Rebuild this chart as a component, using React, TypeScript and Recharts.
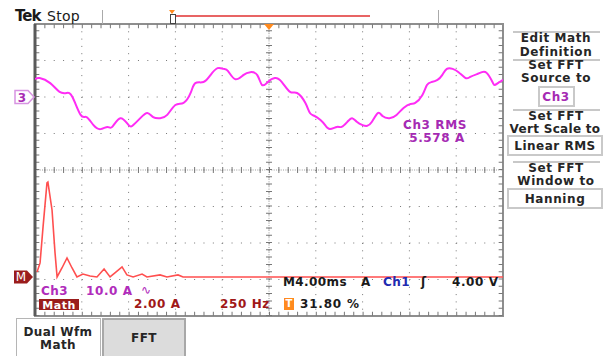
import React from 'react';
import {
  ComposedChart,
  Line,
  XAxis,
  YAxis,
  CartesianGrid,
  ReferenceLine,
  ReferenceArea,
  ReferenceDot,
} from 'recharts';

// ---- Channel 3 current waveform (time in ms, current in A) ----
const ch3TimeMs = [0, 0.4, 1.3, 2.1, 2.7, 3.2, 3.9, 4.4, 5.0, 5.6, 6.2, 6.6, 7.3, 8.0, 8.4, 9.0, 9.6, 10.1, 10.7, 11.3, 12.0, 12.7, 13.3, 13.7, 14.4, 15.0, 15.6, 16.1, 16.5, 17.1, 17.8, 18.4, 19.0, 19.4, 19.9, 20.5, 21.1, 21.8, 22.4, 23.1, 23.5, 23.9, 24.4, 24.8, 25.2, 25.8, 26.2, 26.7, 27.1, 27.5, 28.0, 28.4, 28.8, 29.3, 29.7, 30.3, 30.9, 31.5, 32.1, 32.5, 33.1, 33.5, 33.9, 34.4, 34.8, 35.2, 35.7, 36.2, 36.8, 37.2, 37.8, 38.2, 38.6, 39.1, 39.3, 39.7, 40.0];
const ch3CurrentA = [4.9, 5.2, 3.8, 1.4, 1.1, 0.0, -4.9, -5.5, -7.7, -8.8, -8.2, -8.2, -5.8, -7.7, -7.7, -5.8, -4.4, -5.5, -5.8, -4.9, -2.2, -1.6, 1.1, 3.8, 4.1, 6.0, 7.9, 7.7, 7.1, 4.9, 6.0, 6.8, 6.0, 3.3, 4.1, 5.2, 4.1, 1.4, 1.1, -1.6, -4.4, -5.2, -6.3, -7.7, -8.8, -8.2, -8.2, -6.8, -5.8, -6.8, -7.7, -7.9, -6.8, -4.4, -5.2, -5.8, -4.9, -3.0, -1.9, -1.6, 0.5, 3.3, 4.1, 4.7, 6.0, 7.7, 7.7, 6.8, 5.2, 5.5, 6.3, 6.8, 6.6, 4.1, 3.3, 4.1, 4.7];

// ---- FFT (frequency in Hz, magnitude in A RMS) ----
const fftFreqHz = [11, 27, 43, 64, 69, 91, 107, 118, 144, 171, 198, 224, 256, 294, 331, 369, 401, 427, 465, 491, 524, 572, 598, 668, 705, 764, 791, 2500];
const fftMagA = [0.27, 0.77, 2.74, 5.15, 5.2, 3.67, 1.32, 0, 0.49, 1.04, 0.49, 0, 0.16, 0.05, 0, 0.44, 0, 0.22, 0.55, 0.11, 0, 0.16, 0, 0.11, 0, 0.11, 0, 0];

// ---- scope settings ----
const MS_PER_DIV = 4;
const CH3_A_PER_DIV = 10;
const CH3_OFFSET_DIV = 2;
const HZ_PER_DIV = 250;
const MATH_A_PER_DIV = 2;
const MATH_OFFSET_DIV = -2.93;
const TRIGGER_DIV = 5;

const xMajor = [0, 1, 2, 3, 4, 5, 6, 7, 8, 9, 10];
const yMajor = [-4, -3, -2, -1, 0, 1, 2, 3, 4];

const waveData = ch3TimeMs.map((t, i) => ({
  x: t / MS_PER_DIV,
  y: CH3_OFFSET_DIV + ch3CurrentA[i] / CH3_A_PER_DIV,
}));
const fftData = fftFreqHz.map((f, i) => ({
  x: f / HZ_PER_DIV,
  y: MATH_OFFSET_DIV + fftMagA[i] / MATH_A_PER_DIV,
}));

const FONT = '"DejaVu Sans", Verdana, sans-serif';
const GRID = '#777';

const Ch3Marker = (p: any) => {
  const { cx, cy } = p;
  return (
    <g>
      <path
        d={`M${cx - 20},${cy - 6.5} H${cx - 7} L${cx - 1},${cy} L${cx - 7},${cy + 6.5} H${cx - 20} Z`}
        fill="#fff"
        stroke="#d894e2"
        strokeWidth={1.5}
      />
      <text x={cx - 13} y={cy + 4.5} textAnchor="middle" fontSize={12} fontWeight="bold" fill="#a82cb4" fontFamily={FONT}>
        3
      </text>
    </g>
  );
};

const MathMarker = (p: any) => {
  const { cx, cy } = p;
  return (
    <g>
      <path
        d={`M${cx - 21},${cy - 6.5} H${cx - 8} L${cx - 2},${cy} L${cx - 8},${cy + 6.5} H${cx - 21} Z`}
        fill="#9a1c1c"
      />
      <text x={cx - 14} y={cy + 4.5} textAnchor="middle" fontSize={12} fill="#fff" fontFamily={FONT}>
        M
      </text>
    </g>
  );
};

const TrigMarker = (p: any) => {
  const { cx, cy } = p;
  return <path d={`M${cx - 5},${cy} L${cx + 5},${cy} L${cx},${cy + 6} Z`} fill="#ff8a1e" />;
};

const T = ({ x, y, c = '#1a1a1a', s = 12, w = 'bold', a = 'start', children, ls = 0.4 }: any) => (
  <div
    style={{
      position: 'absolute',
      left: x,
      top: y,
      transform: a === 'middle' ? 'translate(-50%,-50%)' : 'translate(0,-50%)',
      color: c,
      fontSize: s,
      fontWeight: w,
      fontFamily: FONT,
      whiteSpace: 'nowrap',
      lineHeight: `${Math.round(s * 0.78)}px`,
      letterSpacing: ls,
    }}
  >
    {children}
  </div>
);

const Box = ({ x, y, w, h, bg = '#fff', border = '#c9c9c9', bw = 2 }: any) => (
  <div
    style={{
      position: 'absolute',
      left: x,
      top: y,
      width: w,
      height: h,
      background: bg,
      border: `${bw}px solid ${border}`,
      boxSizing: 'border-box',
    }}
  />
);

const Sep = ({ y }: any) => (
  <div style={{ position: 'absolute', left: 513, top: y, width: 87, height: 2, background: '#c8c8c8' }} />
);

const MENU = '#262626';

export default function App() {
  return (
    <div
      style={{
        position: 'absolute',
        left: 0,
        top: 0,
        width: 611,
        height: 356,
        background: '#fff',
        overflow: 'hidden',
        fontFamily: FONT,
      }}
    >
      <ComposedChart width={611} height={356} margin={{ top: 24, right: 108, bottom: 40, left: 35 }}>
        <XAxis dataKey="x" type="number" domain={[0, 10]} ticks={xMajor} hide allowDataOverflow />
        <YAxis type="number" domain={[-4, 4]} ticks={yMajor} hide allowDataOverflow />
        <CartesianGrid horizontal={false} stroke={GRID} strokeDasharray="1 6.3" />
        <CartesianGrid vertical={false} stroke={GRID} strokeDasharray="1 8.36" />

        {/* center crosshair */}
        <ReferenceLine y={0} stroke="#999" strokeDasharray="1 1.34" />
        <ReferenceLine y={0} stroke="#777" strokeWidth={6} strokeDasharray="1 8.36" />
        <ReferenceLine x={TRIGGER_DIV} stroke="#999" strokeDasharray="1 1.43" />
        <ReferenceLine x={TRIGGER_DIV} stroke="#777" strokeWidth={6} strokeDasharray="1 6.3" />

        {/* frame edge ticks */}
        <ReferenceLine y={3.94} stroke="#777" strokeWidth={4} strokeDasharray="1 8.36" />
        <ReferenceLine y={-3.94} stroke="#777" strokeWidth={4} strokeDasharray="1 8.36" />
        <ReferenceLine x={0.05} stroke="#777" strokeWidth={4} strokeDasharray="1 6.3" />
        <ReferenceLine x={9.95} stroke="#777" strokeWidth={4} strokeDasharray="1 6.3" />

        {/* frame */}
        <ReferenceArea x1={0} x2={10} y1={-4} y2={4} fill="none" stroke="#8e8e8e" strokeWidth={2} ifOverflow="visible" />
        <ReferenceLine x={0} stroke="#5a5a5a" strokeWidth={3} />

        <Line
          data={fftData}
          dataKey="y"
          type="linear"
          stroke="#ff4f4f"
          strokeWidth={1.6}
          dot={false}
          isAnimationActive={false}
        />
        <Line
          data={waveData}
          dataKey="y"
          type="natural"
          stroke="#ff2cf5"
          strokeWidth={2}
          dot={false}
          isAnimationActive={false}
        />

        <ReferenceDot x={0} y={CH3_OFFSET_DIV} r={0} ifOverflow="visible" shape={Ch3Marker} />
        <ReferenceDot x={0} y={MATH_OFFSET_DIV} r={0} ifOverflow="visible" shape={MathMarker} />
        <ReferenceDot x={TRIGGER_DIV} y={4} r={0} ifOverflow="visible" shape={TrigMarker} />
      </ComposedChart>

      {/* top status bar */}
      <T x={15} y={16} s={15} ls={-1}>Tek</T>
      <T x={47} y={16} s={14} w="normal" ls={0.3}>Stop</T>
      <div style={{ position: 'absolute', left: 102, top: 10, width: 1, height: 14, background: '#aaa' }} />
      <div style={{ position: 'absolute', left: 438, top: 10, width: 1, height: 14, background: '#aaa' }} />
      <div style={{ position: 'absolute', left: 172, top: 15, width: 198, height: 2, background: '#e86464' }} />
      <div style={{ position: 'absolute', left: 170, top: 14, width: 4, height: 8, border: '1px solid #444', background: '#fff' }} />
      <div
        style={{
          position: 'absolute',
          left: 169,
          top: 10,
          width: 0,
          height: 0,
          borderLeft: '3px solid transparent',
          borderRight: '3px solid transparent',
          borderTop: '4px solid #ff8a1e',
        }}
      />

      {/* measurement */}
      <T x={435} y={125} c="#a52ab3" a="middle" ls={0.6}>Ch3 RMS</T>
      <T x={437} y={138} c="#a52ab3" a="middle" ls={0.6}>5.578 A</T>

      {/* bottom readouts */}
      <T x={283} y={282} ls={0.4}>M4.00ms</T>
      <T x={361} y={282}>A</T>
      <T x={383} y={282} c="#1f2bb0">Ch1</T>
      <T x={421} y={282}>ʃ</T>
      <T x={452} y={282} ls={0.6}>4.00 V</T>

      <T x={41} y={291} c="#b02cbb">Ch3</T>
      <T x={86} y={291} c="#b02cbb" ls={0.6}>10.0 A</T>
      <T x={141} y={290} c="#b02cbb" w="normal">∿</T>

      <div style={{ position: 'absolute', left: 39, top: 299, width: 40, height: 11, background: '#9a1c1c' }} />
      <T x={59} y={305} c="#fff" a="middle" s={11} ls={0.5}>Math</T>
      <T x={134} y={304} c="#a01818" ls={0.6}>2.00 A</T>
      <T x={220} y={304} c="#a01818" ls={0.6}>250 Hz</T>
      <div style={{ position: 'absolute', left: 284, top: 298, width: 10, height: 12, background: '#ff8a1e' }} />
      <T x={289} y={304} c="#fff" s={10} a="middle" ls={0}>T</T>
      <T x={300} y={304} ls={0.8}>31.80 %</T>

      {/* bottom tabs */}
      <Box x={16} y={318} w={85} h={42} bg="#fff" border="#b5b5b5" bw={1} />
      <T x={58} y={332} c={MENU} a="middle">Dual Wfm</T>
      <T x={58} y={345} c={MENU} a="middle">Math</T>
      <Box x={102} y={318} w={84} h={42} bg="#dcdcdc" border="#a8a8a8" bw={2} />
      <T x={144} y={338} c={MENU} a="middle">FFT</T>

      {/* right menu */}
      <Sep y={31} />
      <T x={556} y={38} c={MENU} a="middle" ls={0.6}>Edit Math</T>
      <T x={556} y={52} c={MENU} a="middle" ls={0.6}>Definition</T>
      <Sep y={59} />
      <T x={556} y={65} c={MENU} a="middle" ls={0.6}>Set FFT</T>
      <T x={556} y={78} c={MENU} a="middle" ls={0.6}>Source to</T>
      <Box x={538} y={86} w={37} h={21} />
      <T x={556} y={97} c="#a52ab3" a="middle" ls={0.6}>Ch3</T>
      <Sep y={109} />
      <T x={556} y={116} c={MENU} a="middle" ls={0.6}>Set FFT</T>
      <T x={555} y={129} c={MENU} a="middle" ls={0.3}>Vert Scale to</T>
      <Box x={507} y={135} w={96} h={21} />
      <T x={555} y={146} c={MENU} a="middle" ls={0.5}>Linear RMS</T>
      <Sep y={161} />
      <T x={556} y={168} c={MENU} a="middle" ls={0.6}>Set FFT</T>
      <T x={556} y={181} c={MENU} a="middle" ls={0.6}>Window to</T>
      <Box x={507} y={188} w={96} h={21} />
      <T x={555} y={199} c={MENU} a="middle" ls={0.6}>Hanning</T>
    </div>
  );
}
